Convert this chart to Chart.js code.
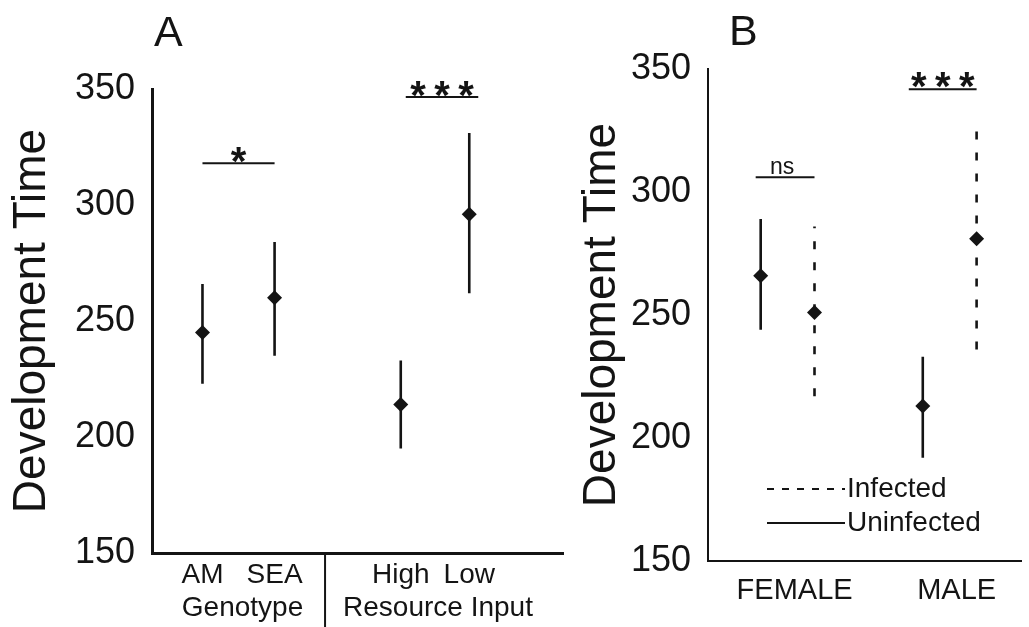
<!DOCTYPE html>
<html>
<head>
<meta charset="utf-8">
<script src="https://cdn.jsdelivr.net/npm/chart.js@4.4.0/dist/chart.umd.min.js"></script>
<style>
  html, body { margin: 0; padding: 0; background: #fff; }
  #wrap { position: relative; width: 1029px; height: 627px; overflow: hidden; }
  #chartA { position: absolute; left: 0; top: 0; }
  #chartB { position: absolute; left: 575px; top: 0; }
</style>
</head>
<body>
<div id="wrap">
  <canvas id="chartA" width="575" height="627"></canvas>
  <canvas id="chartB" width="454" height="627"></canvas>
</div>
<script>
// ---- Panel A: genotype and resource input ----
const catsA = ['AM', 'SEA', 'High', 'Low'];
const groupsA = ['Genotype', 'Resource Input'];
const meanA = [245, 260, 214, 296];
const lowA = [223, 235, 195, 262];
const highA = [266, 284, 233, 331];

// ---- Panel B: sex x infection ----
const catsB = ['FEMALE', 'MALE'];
const seriesB = ['Infected', 'Uninfected'];
const meanUninf = [266, 213];
const lowUninf = [244, 192];
const highUninf = [289, 233];
const meanInf = [251, 281];
const lowInf = [217, 236];
const highInf = [286, 327];

const yTicks = [150, 200, 250, 300, 350];
const yTitle = 'Development Time';

// layout (x slots on the linear axes)
const SLOT_A = [1, 2, 3.75, 4.7];
const SEP_A = 2.7;
const DODGE_B = 0.166;
const slotUninf = catsB.map((c, i) => i + 1 - DODGE_B);
const slotInf = catsB.map((c, i) => i + 1 + DODGE_B);

const INK = '#141414';
const FONT = '"Liberation Sans", Arial, Helvetica, sans-serif';

function barPoints(xs, lo, hi) {
  const pts = [];
  xs.forEach((x, i) => {
    pts.push({ x: x, y: lo[i] }, { x: x, y: hi[i] }, { x: x, y: null });
  });
  return pts;
}

function meanPoints(xs, m) {
  return xs.map((x, i) => ({ x: x, y: m[i] }));
}

function hline(ctx, x1, x2, y) {
  ctx.save();
  ctx.strokeStyle = INK;
  ctx.lineWidth = 2;
  ctx.setLineDash([]);
  ctx.beginPath();
  ctx.moveTo(x1, y);
  ctx.lineTo(x2, y);
  ctx.stroke();
  ctx.restore();
}

// significance bar with n stars above it
function starBar(ctx, x1, x2, y, n, lift) {
  hline(ctx, x1, x2, y);
  ctx.save();
  ctx.fillStyle = INK;
  ctx.font = 'bold 40px ' + FONT;
  ctx.textAlign = 'center';
  ctx.textBaseline = 'alphabetic';
  const pitch = 24;
  const cx = (x1 + x2) / 2;
  for (let i = 0; i < n; i++) {
    ctx.fillText('*', cx + (i - (n - 1) / 2) * pitch, y + lift);
  }
  ctx.restore();
}

function textBar(ctx, x1, x2, y, text, size, lift) {
  hline(ctx, x1, x2, y);
  ctx.save();
  ctx.fillStyle = INK;
  ctx.font = size + 'px ' + FONT;
  ctx.textAlign = 'center';
  ctx.textBaseline = 'alphabetic';
  ctx.fillText(text, (x1 + x2) / 2 - 3, y + lift);
  ctx.restore();
}

function yScale(width, titlePad, borderW) {
  return {
    min: 150,
    max: 350,
    afterFit: (s) => { s.width = width; },
    afterBuildTicks: (s) => { s.ticks = yTicks.map(v => ({ value: v })); },
    grid: { display: false, drawTicks: false },
    border: { display: true, color: INK, width: borderW },
    ticks: { color: INK, padding: 17, font: { family: FONT, size: 36 } },
    title: {
      display: true,
      text: yTitle,
      color: INK,
      padding: { top: titlePad, bottom: 0 },
      font: { family: FONT, size: 46 }
    }
  };
}

const marker = {
  pointStyle: 'rectRot',
  pointRadius: 7.5,
  pointHoverRadius: 7.5,
  backgroundColor: INK,
  borderWidth: 0,
  showLine: false
};

function errLine(data, dash) {
  return {
    data: data,
    showLine: true,
    borderColor: INK,
    borderWidth: 2.6,
    borderDash: dash,
    pointRadius: 0,
    pointHoverRadius: 0,
    spanGaps: false
  };
}

// ---- annotations drawn on top ----
const notesA = {
  id: 'notesA',
  afterDraw(chart) {
    const ctx = chart.ctx, x = chart.scales.x, y = chart.scales.y, area = chart.chartArea;
    ctx.save();
    ctx.fillStyle = INK;
    ctx.font = '43px ' + FONT;
    ctx.textAlign = 'left';
    ctx.textBaseline = 'alphabetic';
    ctx.fillText('A', area.left + 2, 46);

    starBar(ctx, x.getPixelForValue(SLOT_A[0]), x.getPixelForValue(SLOT_A[1]), y.getPixelForValue(318), 1, 12);
    starBar(ctx, x.getPixelForValue(SLOT_A[2]) + 5, x.getPixelForValue(SLOT_A[3]) + 9, y.getPixelForValue(346.5), 3, 12);

    // separator below the axis
    const sx = x.getPixelForValue(SEP_A);
    ctx.strokeStyle = INK;
    ctx.lineWidth = 2;
    ctx.beginPath();
    ctx.moveTo(sx, area.bottom);
    ctx.lineTo(sx, chart.height);
    ctx.stroke();

    // group names
    ctx.font = '28px ' + FONT;
    ctx.textAlign = 'center';
    const g1 = (x.getPixelForValue(SLOT_A[0]) + x.getPixelForValue(SLOT_A[1])) / 2 + 4;
    const g2 = (x.getPixelForValue(SLOT_A[2]) + x.getPixelForValue(SLOT_A[3])) / 2 + 3;
    ctx.fillText(groupsA[0], g1, 616);
    ctx.fillText(groupsA[1], g2, 616);
    ctx.restore();
  }
};

const notesB = {
  id: 'notesB',
  afterDraw(chart) {
    const ctx = chart.ctx, x = chart.scales.x, y = chart.scales.y, area = chart.chartArea;
    ctx.save();
    ctx.fillStyle = INK;
    ctx.font = '43px ' + FONT;
    ctx.textAlign = 'left';
    ctx.textBaseline = 'alphabetic';
    ctx.fillText('B', area.left + 21, 45);

    textBar(ctx, x.getPixelForValue(slotUninf[0]) - 5, x.getPixelForValue(slotInf[0]), y.getPixelForValue(306), 'ns', 23, -3);
    starBar(ctx, x.getPixelForValue(slotUninf[1]) - 14, x.getPixelForValue(slotInf[1]), y.getPixelForValue(341.8), 3, 11);

    // legend
    const lx1 = area.left + 59, lx2 = area.left + 137;
    const ly = [489, 523];
    ctx.strokeStyle = INK;
    ctx.lineWidth = 2;
    ctx.setLineDash([7, 8]);
    ctx.beginPath();
    ctx.moveTo(lx1, ly[0]);
    ctx.lineTo(lx2, ly[0]);
    ctx.stroke();
    ctx.setLineDash([]);
    ctx.beginPath();
    ctx.moveTo(lx1, ly[1]);
    ctx.lineTo(lx2, ly[1]);
    ctx.stroke();
    ctx.font = '28px ' + FONT;
    ctx.textBaseline = 'middle';
    ctx.fillText(seriesB[0], lx2 + 2, ly[0]);
    ctx.fillText(seriesB[1], lx2 + 2, ly[1]);
    ctx.restore();
  }
};

// ---- Chart A ----
new Chart(document.getElementById('chartA'), {
  type: 'scatter',
  data: {
    datasets: [
      Object.assign({ data: meanPoints(SLOT_A, meanA) }, marker),
      errLine(barPoints(SLOT_A, lowA, highA), [])
    ]
  },
  options: {
    responsive: false,
    animation: false,
    devicePixelRatio: 1,
    layout: { padding: { top: 89, right: 12, bottom: 0, left: 0 } },
    plugins: { legend: { display: false }, tooltip: { enabled: false } },
    scales: {
      x: {
        type: 'linear',
        min: 0.3,
        max: 6.0,
        bounds: 'data',
        afterFit: (s) => { s.height = 74; },
        afterBuildTicks: (s) => { s.ticks = SLOT_A.map(v => ({ value: v })); },
        grid: { display: false, drawTicks: false },
        border: { display: true, color: INK, width: 3 },
        ticks: {
          color: INK,
          padding: 5,
          maxRotation: 0,
          font: { family: FONT, size: 28 },
          callback: (v, i) => catsA[i]
        }
      },
      y: yScale(152, 5, 3)
    }
  },
  plugins: [notesA]
});

// ---- Chart B ----
new Chart(document.getElementById('chartB'), {
  type: 'scatter',
  data: {
    datasets: [
      Object.assign({ data: meanPoints(slotUninf, meanUninf) }, marker),
      Object.assign({ data: meanPoints(slotInf, meanInf) }, marker),
      errLine(barPoints(slotUninf, lowUninf, highUninf), []),
      errLine(barPoints(slotInf, lowInf, highInf), [8, 13])
    ]
  },
  options: {
    responsive: false,
    animation: false,
    devicePixelRatio: 1,
    layout: { padding: { top: 69, right: 0, bottom: 0, left: 0 } },
    plugins: { legend: { display: false }, tooltip: { enabled: false } },
    scales: {
      x: {
        type: 'linear',
        min: 0.509,
        max: 2.443,
        bounds: 'data',
        afterFit: (s) => { s.height = 66; },
        afterBuildTicks: (s) => { s.ticks = catsB.map((c, i) => ({ value: i + 1 })); },
        grid: { display: false, drawTicks: false },
        border: { display: true, color: INK, width: 2 },
        ticks: {
          color: INK,
          padding: 13,
          maxRotation: 0,
          labelOffset: 7,
          font: { family: FONT, size: 29 },
          callback: (v, i) => catsB[i]
        }
      },
      y: yScale(133, 0, 2)
    }
  },
  plugins: [notesB]
});
</script>
</body>
</html>
